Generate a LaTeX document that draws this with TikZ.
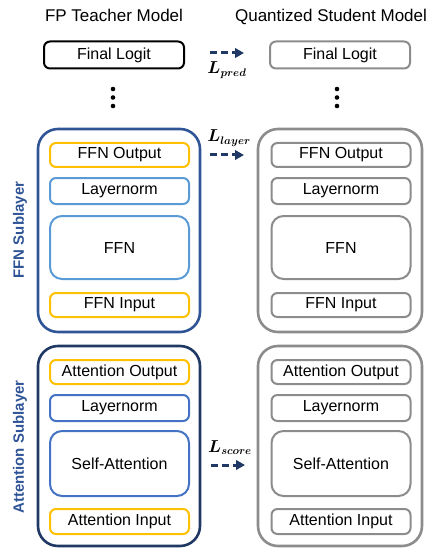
\documentclass[tikz,border=0pt]{standalone}
\usepackage{fontspec}
\setmainfont{Liberation Sans}
\usetikzlibrary{arrows.meta}
\definecolor{navyA}{HTML}{1F3864}
\definecolor{ffnOuter}{HTML}{2F5597}
\definecolor{attOuter}{HTML}{203864}
\definecolor{orangeC}{HTML}{FFC000}
\definecolor{lightB}{HTML}{5B9BD5}
\definecolor{midB}{HTML}{4472C4}
\definecolor{grayC}{HTML}{8C8C8C}
\definecolor{sideC}{HTML}{2F5597}
\begin{document}
\begin{tikzpicture}[x=1pt,y=-1pt,
  titletext/.style={font=\fontsize{17}{20}\selectfont, anchor=base},
  boxtext/.style={font=\fontsize{16}{19}\selectfont, inner sep=0pt},
  innerbox/.style={boxtext, draw, line width=2pt, rounded corners=6pt, minimum width=139pt},
  bigbox/.style={boxtext, draw, line width=2pt, rounded corners=12pt, minimum width=139pt},
  outerbox/.style={draw, line width=2.6pt, rounded corners=20pt, minimum width=162pt, inner sep=0pt},
  logitbox/.style={boxtext, draw, line width=2pt, rounded corners=6pt, minimum width=140pt, minimum height=27pt},
  dotn/.style={circle, fill=black, inner sep=0pt, minimum size=4.6pt},
  lossarrow/.style={draw=navyA, line width=3pt, dash pattern=on 7pt off 4pt, -{Triangle[length=9pt,width=9.5pt]}},
  losslabel/.style={font=\fontsize{16}{18}\selectfont\boldmath, anchor=base, inner sep=0pt},
  sidelabel/.style={font=\fontsize{15}{18}\selectfont\bfseries, text=sideC, rotate=90, inner sep=0pt}
]
\useasboundingbox (0,0) rectangle (431,548);

% titles
\node[titletext] (ttitle) at (114,22) {FP Teacher Model};
\node[titletext] (stitle) at (331,22) {Quantized Student Model};

% final logits
\node[logitbox, draw=black] (tfl) at (114,55) {Final Logit};
\node[logitbox, draw=grayC] (sfl) at (340,55) {Final Logit};

% dots
\node[dotn] (td1) at (113,89) {};
\node[dotn] (td2) at (113,97.5) {};
\node[dotn] (td3) at (113,106) {};
\node[dotn] (sd1) at (337,89) {};
\node[dotn] (sd2) at (337,97.5) {};
\node[dotn] (sd3) at (337,106) {};

% teacher FFN sublayer
\node[outerbox, draw=ffnOuter, minimum height=203pt] (tffn) at (119,230.5) {};
\node[innerbox, draw=orangeC, minimum height=24pt] (tfo) at (119.5,155) {FFN Output};
\node[innerbox, draw=lightB, minimum height=26pt] (tln1) at (119.5,191) {Layernorm};
\node[bigbox, draw=lightB, minimum height=63pt] (tf) at (119.5,247.5) {FFN};
\node[innerbox, draw=orangeC, minimum height=24pt] (tfi) at (119.5,305) {FFN Input};

% teacher attention sublayer
\node[outerbox, draw=attOuter, minimum height=200pt] (tatt) at (119,446) {};
\node[innerbox, draw=orangeC, minimum height=24pt] (tao) at (119.5,372) {Attention Output};
\node[innerbox, draw=midB, minimum height=26pt] (tln2) at (119.5,408) {Layernorm};
\node[bigbox, draw=midB, minimum height=65pt] (tsa) at (119.5,463.5) {Self-Attention};
\node[innerbox, draw=orangeC, minimum height=25pt] (tai) at (119.5,521.5) {Attention Input};

% student FFN sublayer
\node[outerbox, draw=grayC, minimum height=203pt, minimum width=164pt] (sffn) at (340,230.5) {};
\node[innerbox, draw=grayC, minimum height=24pt] (sfo) at (341,155) {FFN Output};
\node[innerbox, draw=grayC, minimum height=26pt] (sln1) at (341,191) {Layernorm};
\node[bigbox, draw=grayC, minimum height=63pt] (sf) at (341,247.5) {FFN};
\node[innerbox, draw=grayC, minimum height=24pt] (sfi) at (341,305) {FFN Input};

% student attention sublayer
\node[outerbox, draw=grayC, minimum height=200pt, minimum width=164pt] (satt) at (340,446) {};
\node[innerbox, draw=grayC, minimum height=24pt] (sao) at (341,372) {Attention Output};
\node[innerbox, draw=grayC, minimum height=26pt] (sln2) at (341,408) {Layernorm};
\node[bigbox, draw=grayC, minimum height=65pt] (ssa) at (341,463.5) {Self-Attention};
\node[innerbox, draw=grayC, minimum height=25pt] (sai) at (341,521.5) {Attention Input};

% side labels
\node[sidelabel] (lffn) at (20,230) {FFN Sublayer};
\node[sidelabel] (latt) at (20,447) {Attention Sublayer};

% loss arrows
\coordinate (pa) at (210,53);
\coordinate (pb) at (244,53);
\draw[lossarrow] (pa) -- (pb);
\node[losslabel] (lpred) at (227,73.5) {$L_{pred}$};

\coordinate (la) at (210,155);
\coordinate (lb) at (244,155);
\draw[lossarrow] (la) -- (lb);
\node[losslabel] (llayer) at (229,142) {$L_{layer}$};

\coordinate (sa) at (211,465);
\coordinate (sb) at (245,465);
\draw[lossarrow] (sa) -- (sb);
\node[losslabel] (lscore) at (230,452) {$L_{score}$};
\end{tikzpicture}
\end{document}
